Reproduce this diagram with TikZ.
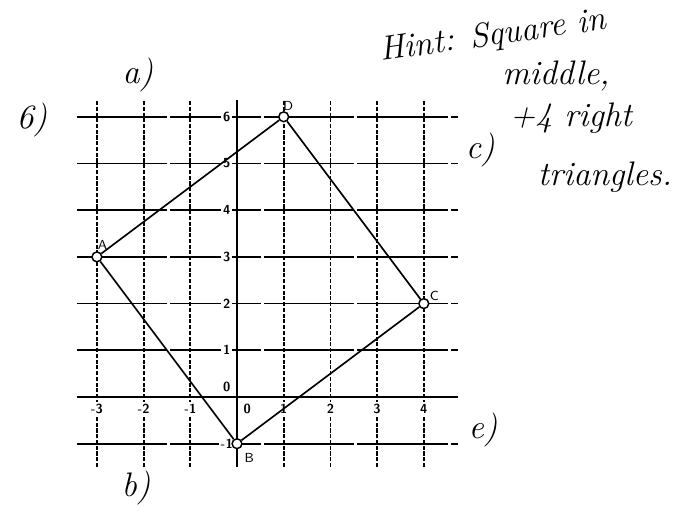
\documentclass[tikz,border=0pt]{standalone}
\usepackage{fontspec}
\usetikzlibrary{positioning}

\begin{document}
\begin{tikzpicture}[
    vline/.style={line width=1.1pt, dash pattern=on 2.5pt off 1pt},
    hline/.style={line width=1pt, dash pattern=on 55pt off 2pt},
    axis/.style={line width=1.1pt},
    side/.style={line width=1pt},
    tick/.style={font=\sffamily\bfseries\footnotesize, fill=white, inner sep=1pt},
    pt/.style={circle, draw, line width=0.9pt, fill=white, inner sep=0pt, minimum size=6pt},
    vlabel/.style={font=\sffamily\footnotesize, inner sep=1pt},
    hand/.style={font=\itshape\huge, inner sep=0pt},
]
\useasboundingbox (-5.075,-2.57) rectangle (9.636,8.501);

% grid
\foreach \x in {-3,-2,-1,1,2,3,4}
    \draw[vline] (\x,-1.5) -- (\x,6.36);
\foreach \y in {-1,1,2,...,6}
    \draw[hline] (-3.43,\y) -- (4.73,\y);
\draw[axis] (-3.43,0) -- (4.73,0);
\draw[axis] (0,-1.5) -- (0,6.36);

% tick labels
\foreach \y in {-1,1,2,...,6}
    \node[tick] (ty\y) at (-0.22,\y) {\y};
\foreach \x in {-3,-2,-1,1,2,3,4}
    \node[tick] (tx\x) at (\x,-0.25) {\x};
\node[tick] (oy) at (-0.22,0.22) {0};
\node[tick] (ox) at (0.22,-0.25) {0};

% square
\node[pt] (A) at (-3,3) {};
\node[pt] (B) at (0,-1) {};
\node[pt] (C) at (4,2) {};
\node[pt] (D) at (1,6) {};
\draw[side] (A) -- (D) -- (C) -- (B) -- (A);

\node[vlabel, above right=1pt and -3pt of A] (la) {A};
\node[vlabel, below right=2pt and 1pt of B] (lb) {B};
\node[vlabel, above right=-2pt and 0pt of C] (lc) {C};
\node[vlabel, above right=0pt and -4pt of D] (ld) {D};

% handwritten notes
\node[hand] (n6) at (-4.39,5.93) {6)};
\node[hand] (na) at (-2.12,6.9) {a)};
\node[hand] (nb) at (-2.16,-1.95) {b)};
\node[hand] (nc) at (5.21,5.29) {c)};
\node[hand] (ne) at (5.27,-0.71) {e)};
\node[hand, rotate=8] (h1) at (5.48,7.72) {Hint: Square in};
\node[hand] (h2) at (6.83,6.88) {middle,};
\node[hand] (h3) at (7.15,5.98) {+4 right};
\node[hand] (h4) at (7.88,4.71) {triangles.};

\end{tikzpicture}
\end{document}
